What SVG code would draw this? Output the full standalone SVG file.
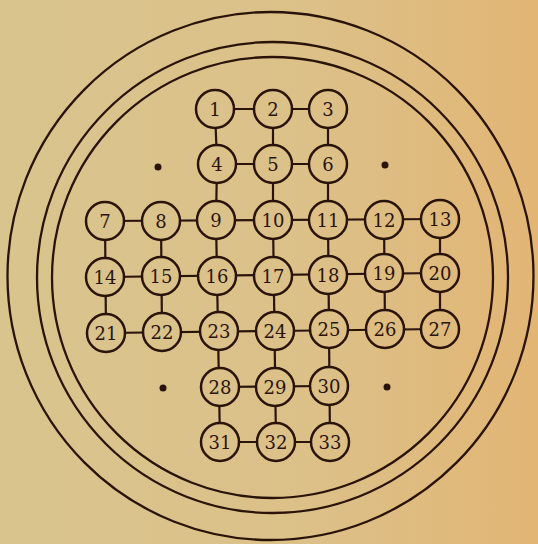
<svg xmlns="http://www.w3.org/2000/svg" width="538" height="544" viewBox="0 0 538 544">
<defs>
<linearGradient id="bg" gradientUnits="userSpaceOnUse" x1="0" y1="0" x2="538" y2="0">
<stop offset="0" stop-color="#d9c48e"/>
<stop offset="0.6" stop-color="#dcc088"/>
<stop offset="1" stop-color="#e2b574"/>
</linearGradient>
<style>
.ring{fill:none;stroke:#2a140a;stroke-width:2.3}
.n circle{fill:url(#bg);stroke:#2a140a;stroke-width:2.5}
.n text{font-family:"DejaVu Serif","Liberation Serif",serif;font-size:18px;fill:#2a140a;text-anchor:middle;dominant-baseline:central}
#links line{stroke:#2a140a;stroke-width:2.2}
.dot{fill:#2a140a}
</style>
</defs>
<rect width="538" height="544" fill="url(#bg)"/>
<g id="board">
<ellipse class="ring" cx="270.5" cy="276" rx="263" ry="264"/>
<circle class="ring" cx="272.5" cy="277.5" r="235.5"/>
<circle class="ring" cx="272.5" cy="277.5" r="220.5"/>
<circle class="dot" cx="158" cy="167" r="3.5"/>
<circle class="dot" cx="385" cy="165" r="3.5"/>
<circle class="dot" cx="163" cy="388" r="3.5"/>
<circle class="dot" cx="387" cy="387" r="3.5"/>
</g>
<g id="links">
<line x1="215" y1="109" x2="273" y2="109"/><line x1="273" y1="109" x2="328" y2="109"/>
<line x1="217" y1="164" x2="273" y2="164"/><line x1="273" y1="164" x2="328" y2="164"/>
<line x1="215" y1="109" x2="217" y2="164"/><line x1="273" y1="109" x2="273" y2="164"/><line x1="328" y1="109" x2="328" y2="164"/>
<line x1="217" y1="164" x2="216" y2="220"/><line x1="273" y1="164" x2="273" y2="220"/><line x1="328" y1="164" x2="328" y2="220"/>
<line x1="105" y1="221" x2="440" y2="219"/>
<line x1="105" y1="277" x2="440" y2="273"/>
<line x1="106" y1="333" x2="440" y2="329"/>
<line x1="105" y1="221" x2="106" y2="333"/>
<line x1="161" y1="221" x2="162" y2="332"/>
<line x1="216" y1="220" x2="220" y2="442"/>
<line x1="273" y1="220" x2="276" y2="442"/>
<line x1="328" y1="220" x2="330" y2="442"/>
<line x1="384" y1="220" x2="385" y2="329"/>
<line x1="440" y1="219" x2="440" y2="329"/>
<line x1="220" y1="387" x2="329" y2="386"/>
<line x1="220" y1="442" x2="330" y2="442"/>
</g>
<g id="n1" class="n"><circle cx="215" cy="109" r="19"/><text x="215" y="109">1</text></g>
<g id="n2" class="n"><circle cx="273" cy="109" r="19"/><text x="273" y="109">2</text></g>
<g id="n3" class="n"><circle cx="328" cy="109" r="19"/><text x="328" y="109">3</text></g>
<g id="n4" class="n"><circle cx="217" cy="164" r="19"/><text x="217" y="164">4</text></g>
<g id="n5" class="n"><circle cx="273" cy="164" r="19"/><text x="273" y="164">5</text></g>
<g id="n6" class="n"><circle cx="328" cy="164" r="19"/><text x="328" y="164">6</text></g>
<g id="n7" class="n"><circle cx="105" cy="221" r="19"/><text x="105" y="221">7</text></g>
<g id="n8" class="n"><circle cx="161" cy="221" r="19"/><text x="161" y="221">8</text></g>
<g id="n9" class="n"><circle cx="216" cy="220" r="19"/><text x="216" y="220">9</text></g>
<g id="n10" class="n"><circle cx="273" cy="220" r="19"/><text x="273" y="220">10</text></g>
<g id="n11" class="n"><circle cx="328" cy="220" r="19"/><text x="328" y="220">11</text></g>
<g id="n12" class="n"><circle cx="384" cy="220" r="19"/><text x="384" y="220">12</text></g>
<g id="n13" class="n"><circle cx="440" cy="219" r="19"/><text x="440" y="219">13</text></g>
<g id="n14" class="n"><circle cx="105" cy="277" r="19"/><text x="105" y="277">14</text></g>
<g id="n15" class="n"><circle cx="161" cy="276" r="19"/><text x="161" y="276">15</text></g>
<g id="n16" class="n"><circle cx="217" cy="276" r="19"/><text x="217" y="276">16</text></g>
<g id="n17" class="n"><circle cx="273" cy="276" r="19"/><text x="273" y="276">17</text></g>
<g id="n18" class="n"><circle cx="328" cy="275" r="19"/><text x="328" y="275">18</text></g>
<g id="n19" class="n"><circle cx="384" cy="273" r="19"/><text x="384" y="273">19</text></g>
<g id="n20" class="n"><circle cx="440" cy="273" r="19"/><text x="440" y="273">20</text></g>
<g id="n21" class="n"><circle cx="106" cy="333" r="19"/><text x="106" y="333">21</text></g>
<g id="n22" class="n"><circle cx="162" cy="332" r="19"/><text x="162" y="332">22</text></g>
<g id="n23" class="n"><circle cx="219" cy="331" r="19"/><text x="219" y="331">23</text></g>
<g id="n24" class="n"><circle cx="275" cy="331" r="19"/><text x="275" y="331">24</text></g>
<g id="n25" class="n"><circle cx="329" cy="329" r="19"/><text x="329" y="329">25</text></g>
<g id="n26" class="n"><circle cx="385" cy="329" r="19"/><text x="385" y="329">26</text></g>
<g id="n27" class="n"><circle cx="440" cy="329" r="19"/><text x="440" y="329">27</text></g>
<g id="n28" class="n"><circle cx="220" cy="387" r="19"/><text x="220" y="387">28</text></g>
<g id="n29" class="n"><circle cx="275" cy="387" r="19"/><text x="275" y="387">29</text></g>
<g id="n30" class="n"><circle cx="329" cy="386" r="19"/><text x="329" y="386">30</text></g>
<g id="n31" class="n"><circle cx="220" cy="442" r="19"/><text x="220" y="442">31</text></g>
<g id="n32" class="n"><circle cx="276" cy="442" r="19"/><text x="276" y="442">32</text></g>
<g id="n33" class="n"><circle cx="330" cy="442" r="19"/><text x="330" y="442">33</text></g>
</svg>
